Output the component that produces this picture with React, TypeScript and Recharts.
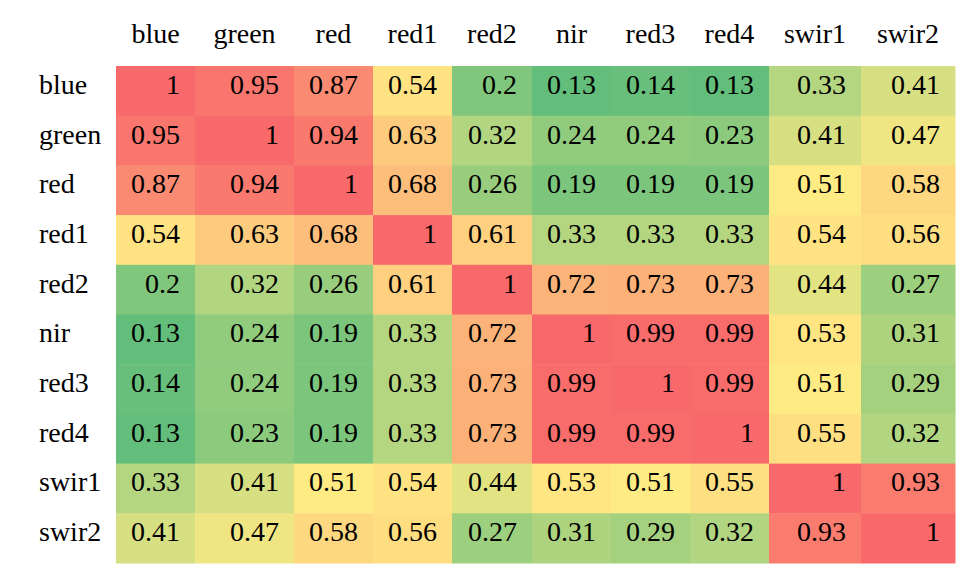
import { Scatter, ScatterChart, XAxis, YAxis } from 'recharts'

// band names (rows and columns)
const bands = ['blue', 'green', 'red', 'red1', 'red2', 'nir', 'red3', 'red4', 'swir1', 'swir2']

// correlation rows, in band order
const blue = [1, 0.95, 0.87, 0.54, 0.2, 0.13, 0.14, 0.13, 0.33, 0.41]
const green = [0.95, 1, 0.94, 0.63, 0.32, 0.24, 0.24, 0.23, 0.41, 0.47]
const red = [0.87, 0.94, 1, 0.68, 0.26, 0.19, 0.19, 0.19, 0.51, 0.58]
const red1 = [0.54, 0.63, 0.68, 1, 0.61, 0.33, 0.33, 0.33, 0.54, 0.56]
const red2 = [0.2, 0.32, 0.26, 0.61, 1, 0.72, 0.73, 0.73, 0.44, 0.27]
const nir = [0.13, 0.24, 0.19, 0.33, 0.72, 1, 0.99, 0.99, 0.53, 0.31]
const red3 = [0.14, 0.24, 0.19, 0.33, 0.73, 0.99, 1, 0.99, 0.51, 0.29]
const red4 = [0.13, 0.23, 0.19, 0.33, 0.73, 0.99, 0.99, 1, 0.55, 0.32]
const swir1 = [0.33, 0.41, 0.51, 0.54, 0.44, 0.53, 0.51, 0.55, 1, 0.93]
const swir2 = [0.41, 0.47, 0.58, 0.56, 0.27, 0.31, 0.29, 0.32, 0.93, 1]

const matrix = [blue, green, red, red1, red2, nir, red3, red4, swir1, swir2]

// layout: spreadsheet column widths (px), chart box
const colWidths = [79, 99, 79, 79, 80, 79, 79, 79, 92, 94]
const W = 977
const H = 582
const MARGIN = { top: 0, right: 22, bottom: 19, left: 0 }
const AXIS_W = 116
const AXIS_H = 66
const PLOT_W = W - AXIS_W - MARGIN.right
const PLOT_H = H - AXIS_H - MARGIN.bottom
const FONT = "'Liberation Serif', 'Times New Roman', Times, 'DejaVu Serif', serif"
const textStyle = { fontFamily: FONT, fontSize: 28 }

const totalW = colWidths.reduce((a, b) => a + b, 0)
const colStarts = colWidths.map((_, i) => colWidths.slice(0, i).reduce((a, b) => a + b, 0))
const colCenters = colStarts.map((s, i) => s + colWidths[i] / 2)
const rowCenters = bands.map((_, i) => i + 0.5)

// Excel-style 3 colour scale: green (min) -> yellow (median) -> red (max)
const all = matrix.flat().sort((a, b) => a - b)
const vMin = all[0]
const vMax = all[all.length - 1]
const vMid = (all[49] + all[50]) / 2
const GREEN = [0x63, 0xbe, 0x7b]
const YELLOW = [0xff, 0xeb, 0x84]
const RED = [0xf8, 0x69, 0x6b]

function mix(a: number[], b: number[], t: number) {
  const c = a.map((v, i) => Math.round(v + (b[i] - v) * t))
  return `rgb(${c[0]},${c[1]},${c[2]})`
}

function cellColor(v: number) {
  if (v >= vMid) return mix(YELLOW, RED, (v - vMid) / (vMax - vMid))
  return mix(GREEN, YELLOW, (v - vMin) / (vMid - vMin))
}

const cells = matrix.flatMap((row, r) =>
  row.map((v, c) => ({ x: colCenters[c], y: rowCenters[r], value: v, col: c }))
)

function Cell(props: any) {
  const { cx, cy, payload } = props
  const w = (colWidths[payload.col] * PLOT_W) / totalW
  const h = PLOT_H / bands.length
  return (
    <g>
      <rect x={cx - w / 2} y={cy - h / 2} width={w + 0.5} height={h + 0.5} fill={cellColor(payload.value)} />
      <text x={cx + w / 2 - 15} y={cy + 3} textAnchor="end" style={textStyle} fill="#000">
        {payload.value}
      </text>
    </g>
  )
}

function TopTick(props: any) {
  const { x, index } = props
  return (
    <text x={x} y={43} textAnchor="middle" style={textStyle} fill="#000">
      {bands[index]}
    </text>
  )
}

function LeftTick(props: any) {
  const { y, index } = props
  return (
    <text x={39} y={y + 3} textAnchor="start" style={textStyle} fill="#000">
      {bands[index]}
    </text>
  )
}

export default function App() {
  return (
    <div style={{ position: 'absolute', left: 0, top: 0, width: W, height: H, background: '#fff' }}>
      <ScatterChart width={W} height={H} margin={MARGIN}>
        <XAxis
          type="number"
          dataKey="x"
          orientation="top"
          domain={[0, totalW]}
          ticks={colCenters}
          interval={0}
          height={AXIS_H}
          axisLine={false}
          tickLine={false}
          tick={<TopTick />}
        />
        <YAxis
          type="number"
          dataKey="y"
          domain={[0, bands.length]}
          reversed
          ticks={rowCenters}
          interval={0}
          width={AXIS_W}
          axisLine={false}
          tickLine={false}
          tick={<LeftTick />}
        />
        <Scatter data={cells} shape={<Cell />} isAnimationActive={false} />
      </ScatterChart>
    </div>
  )
}
